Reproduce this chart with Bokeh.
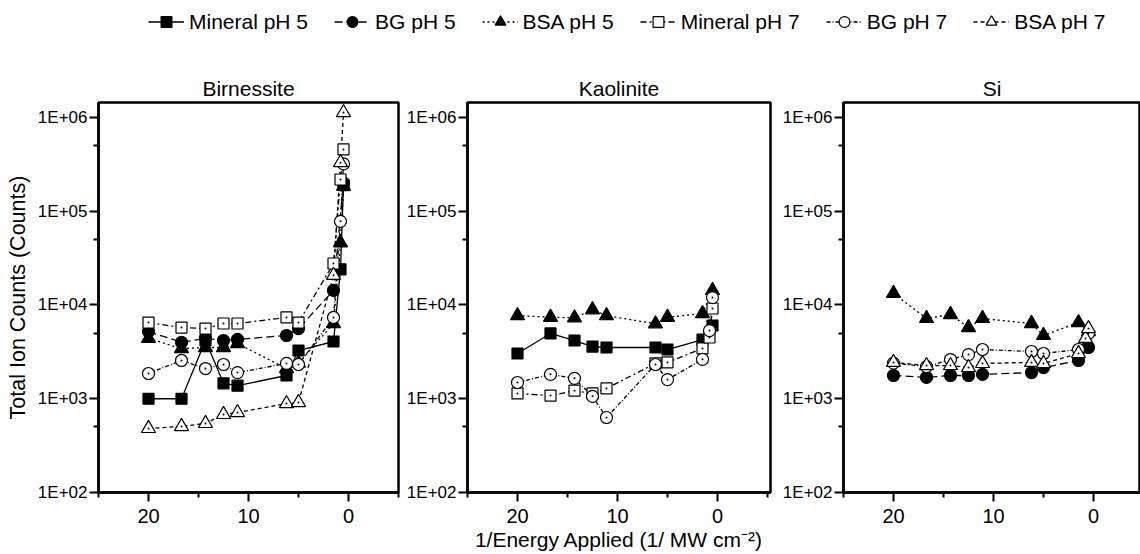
from bokeh.plotting import figure
from bokeh.models import FixedTicker, CustomJSTickFormatter, Range1d, Legend, LegendItem
from bokeh.layouts import column, row
from bokeh.embed import file_html
from bokeh.resources import INLINE

# ---------------- data ----------------
X10 = [20, 16.7, 14.3, 12.5, 11.1, 6.2, 5.0, 1.5, 0.8, 0.5]
X9 = [20, 16.7, 14.3, 12.5, 11.1, 6.2, 5.0, 1.5, 0.5]

series_names = ["Mineral pH 5", "BG pH 5", "BSA pH 5", "Mineral pH 7", "BG pH 7", "BSA pH 7"]
panel_titles = ["Birnessite", "Kaolinite", "Si"]

# Birnessite
bir_min5 = [1000, 1000, 4180, 1460, 1380, 1770, 3270, 4080, 24000, 190000]
bir_bg5 = [5210, 4000, 4400, 4180, 4290, 4730, 5600, 14300, 200000]
bir_bsa5 = [4400, 3430, 3520, 3520, 3880, 2100, 2400, 6350, 46000, 185000]
bir_min7 = [6500, 5750, 5600, 6350, 6350, 7360, 6500, 27700, 218000, 456000]
bir_bg7 = [1860, 2560, 2100, 2320, 1900, 2380, 2320, 7360, 78000, 320000]
bir_bsa7 = [482, 506, 545, 680, 713, 889, 912, 20700, 330000, 1130000]

# Kaolinite
kao_min5 = [3040, 4970, 4180, 3600, 3520, 3520, 3350, 4280, 6040]
kao_bsa5 = [7700, 7400, 7300, 8900, 7700, 6300, 7400, 8100, 14300]
kao_min7 = [1140, 1080, 1220, 1140, 1290, 2380, 2440, 3440, 4500, 9180]
kao_bg7 = [1490, 1820, 1650, 1060, 631, 2320, 1600, 2630, 5330, 12000]

# Si
si_bg5 = [1770, 1690, 1770, 1770, 1820, 1900, 2150, 2560, 3520]
si_bsa5 = [13300, 7180, 7920, 5750, 7180, 6350, 4730, 6500, 5200]
si_bg7 = [2400, 2200, 2620, 2960, 3350, 3190, 3040, 3350, 4980]
si_bsa7 = [2440, 2260, 2260, 2150, 2380, 2440, 2380, 3040, 4400, 5600]

y_major = [1e2, 1e3, 1e4, 1e5, 1e6]
y_minor = [5e2, 5e3, 5e4, 5e5]
x_major = [0, 10, 20]
x_minor = [-5, 5, 15, 25]

# ---------------- styles ----------------
FONT = "Liberation Sans"
STYLE = {
    "Mineral pH 5": dict(marker="square", fill="black", dash="solid", size=11),
    "BG pH 5": dict(marker="circle", fill="black", dash="8 4", size=12),
    "BSA pH 5": dict(marker="triangle", fill="black", dash="2 3", size=14),
    "Mineral pH 7": dict(marker="square", fill="white", dash="6 3 2 3", size=11),
    "BG pH 7": dict(marker="circle", fill="white", dash="4 2 1 2", size=12),
    "BSA pH 7": dict(marker="triangle", fill="white", dash="4 3", size=14),
}

panels_data = [
    [("Mineral pH 5", X10, bir_min5), ("BG pH 5", X9, bir_bg5), ("BSA pH 5", X10, bir_bsa5),
     ("Mineral pH 7", X10, bir_min7), ("BG pH 7", X10, bir_bg7), ("BSA pH 7", X10, bir_bsa7)],
    [("Mineral pH 5", X9, kao_min5), ("BSA pH 5", X9, kao_bsa5),
     ("Mineral pH 7", X10, kao_min7), ("BG pH 7", X10, kao_bg7)],
    [("BG pH 5", X9, si_bg5), ("BSA pH 5", X9, si_bsa5),
     ("BG pH 7", X9, si_bg7), ("BSA pH 7", X10, si_bsa7)],
]

LEG_H = 38
TOP, FRAME_H, BOT = 64, 390, 62
H = TOP + FRAME_H + BOT

geo = [
    dict(width=403, left=98, right=5, x_end=-5.0),
    dict(width=376, left=64, right=9, x_end=-5.3),
    dict(width=361, left=64, right=0, x_end=-4.7),
]

fmt = CustomJSTickFormatter(code="return '1E+0' + Math.round(Math.log10(tick)).toString();")

figs = []
for i, (title, data, g) in enumerate(zip(panel_titles, panels_data, geo)):
    p = figure(width=g["width"], height=H, y_axis_type="log",
               x_range=Range1d(25, g["x_end"]), y_range=Range1d(100, 1.445e6),
               output_backend="svg", toolbar_location=None,
               min_border_left=g["left"], min_border_right=g["right"],
               min_border_top=TOP, min_border_bottom=BOT)
    p.title.text = title
    p.title.align = "center"
    p.title.text_font = FONT
    p.title.text_font_size = "21px"
    p.title.text_font_style = "normal"
    p.title.text_color = "black"
    p.title.standoff = 6
    p.grid.visible = False
    p.outline_line_color = "black"
    p.outline_line_width = 2.5
    p.outline_line_alpha = 1
    p.xaxis.ticker = FixedTicker(ticks=x_major, minor_ticks=x_minor)
    p.yaxis.ticker = FixedTicker(ticks=y_major, minor_ticks=y_minor)
    p.yaxis.formatter = fmt
    for ax in (p.xaxis[0], p.yaxis[0]):
        ax.axis_line_width = 2.5
        ax.axis_line_color = "black"
        ax.major_tick_line_width = 2
        ax.minor_tick_line_width = 2
        ax.major_tick_out = 9
        ax.major_tick_in = 0
        ax.minor_tick_out = 5
        ax.minor_tick_in = 0
        ax.major_label_text_font = FONT
        ax.major_label_text_color = "black"
        ax.axis_label_text_font = FONT
        ax.axis_label_text_font_style = "normal"
        ax.axis_label_text_font_size = "21px"
        ax.axis_label_text_color = "black"
    p.xaxis.major_label_text_font_size = "20px"
    p.yaxis.major_label_text_font_size = "17px"
    p.xaxis.major_label_standoff = 7
    p.yaxis.major_label_standoff = 2
    if i == 0:
        p.yaxis.axis_label = "Total Ion Counts (Counts)"
        p.yaxis.axis_label_text_font_size = "21.5px"
        p.yaxis.axis_label_standoff = 5
    if i == 1:
        p.xaxis.axis_label = "1/Energy Applied (1/ MW cm\u207b\u00b2)"
        p.xaxis.axis_label_standoff = 2
    for name, xs, ys in data:
        st = STYLE[name]
        p.line(xs, ys, line_color="black", line_width=1.3, line_dash=st["dash"])
    for name, xs, ys in data:
        st = STYLE[name]
        p.scatter(xs, ys, marker=st["marker"], size=st["size"], fill_color=st["fill"],
                  line_color="black", line_width=1.2)
        if st["fill"] == "white":
            p.scatter(xs, ys, marker="circle", size=2, fill_color="black", line_color=None)
    figs.append(p)

# ---------------- legend strip ----------------
lg = figure(width=1140, height=LEG_H, output_backend="svg", toolbar_location=None,
            x_axis_location=None, y_axis_location=None, min_border=0,
            x_range=Range1d(0, 1), y_range=Range1d(0, 1))
lg.grid.visible = False
lg.outline_line_color = None
items = []
for name in series_names:
    st = STYLE[name]
    lr = lg.line(x=[-10, -9], y=[-10, -10], line_color="black", line_width=1.3, line_dash=st["dash"])
    sr = lg.scatter(x=[-10], y=[-10], marker=st["marker"], size=st["size"], fill_color=st["fill"],
                    line_color="black", line_width=1.2)
    items.append(LegendItem(label=name, renderers=[lr, sr]))
legend = Legend(items=items, orientation="horizontal", location=(148, 3),
                label_text_font=FONT, label_text_font_size="21px", label_text_color="black",
                glyph_width=36, glyph_height=27, label_standoff=5, spacing=26,
                padding=0, margin=0, border_line_color=None, background_fill_alpha=0)
lg.add_layout(legend, "center")

layout = column(lg, row(*figs))
open("out.html", "w").write(file_html(layout, INLINE))
